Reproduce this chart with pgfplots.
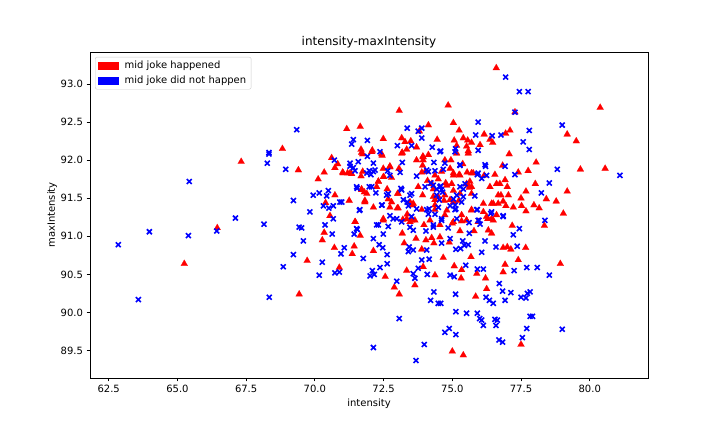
\documentclass[border=0pt]{standalone}
\usepackage{pgfplots}
\pgfplotsset{compat=1.18}
\usepackage{fontspec}
\setmainfont{DejaVu Sans}
\definecolor{legframe}{rgb}{0.8,0.8,0.8}
\begin{document}
\fontsize{10bp}{12bp}\selectfont
\begin{tikzpicture}
\useasboundingbox (0,0) rectangle (720bp,432bp);
\begin{axis}[
  at={(90bp,54bp)}, anchor=south west, scale only axis,
  width=558bp, height=326bp,
  xmin=61.82, xmax=82.12, ymin=89.14, ymax=93.42,
  xtick={62.5,65,67.5,70,72.5,75,77.5,80},
  ytick={89.5,90,90.5,91,91.5,92,92.5,93},
  xticklabel style={/pgf/number format/.cd,fixed,fixed zerofill,precision=1},
  yticklabel style={/pgf/number format/.cd,fixed,fixed zerofill,precision=1},
  /pgf/number format/assume math mode=true,
  tick label style={font=\fontsize{10bp}{12bp}\selectfont},
  tick pos=left, tick align=outside,
  major tick length=3.5bp,
  every tick/.style={black, line width=0.8bp},
  axis line style={line width=0.8bp},
  title={intensity-maxIntensity},
  title style={font=\fontsize{12bp}{14bp}\selectfont, yshift=-6bp},
  xlabel={intensity}, ylabel={maxIntensity},
  label style={font=\fontsize{10bp}{12bp}\selectfont},
  xlabel style={yshift=1bp},
  ylabel style={yshift=-3bp},
  legend style={at={(0.009,0.985)}, anchor=north west, draw=legframe,
    rounded corners=2bp, font=\fontsize{10bp}{12bp}\selectfont,
    inner xsep=3bp, inner ysep=2bp, row sep=2bp},
  legend cell align=left,
  clip=true,
]
\addlegendimage{legend image code/.code={\fill[red, sharp corners] (0bp,-3.5bp) rectangle (20bp,3.5bp); \path (24bp,0bp);}}
\addlegendentry{mid joke happened}
\addlegendimage{legend image code/.code={\fill[blue, sharp corners] (0bp,-3.5bp) rectangle (20bp,3.5bp); \path (24bp,0bp);}}
\addlegendentry{mid joke did not happen}

\addplot[red, only marks, mark=triangle*, mark size=4bp, mark options={solid, fill=red, draw=red, line width=0.1bp}, forget plot] table {
x y
68.82 92.15
67.32 91.98
69.40 91.87
66.45 91.11
65.25 90.64
69.43 90.24
80.38 92.69
79.18 92.34
79.51 92.25
78.05 91.97
79.66 91.88
80.56 91.89
78.02 91.69
79.18 91.59
78.42 91.49
78.78 91.46
77.97 91.41
78.16 91.37
79.04 91.30
78.35 91.14
78.93 90.64
73.07 92.65
71.16 92.41
71.65 92.44
73.80 92.38
72.49 92.28
73.16 92.29
73.28 92.24
73.49 92.25
73.34 92.14
73.70 92.17
71.68 92.14
71.74 92.08
72.09 92.13
72.45 92.06
73.18 92.10
70.61 92.03
70.83 91.95
70.73 91.90
73.70 92.00
70.34 91.84
71.01 91.84
71.19 91.83
71.34 91.82
71.74 91.85
71.68 91.79
72.49 91.89
72.73 91.92
73.06 91.89
72.31 91.72
72.51 91.78
72.79 91.77
70.12 91.75
70.73 91.54
71.25 91.47
70.39 91.44
70.55 91.27
71.70 91.62
71.80 91.58
72.25 91.65
72.63 91.62
72.67 91.49
73.01 91.56
73.76 91.65
71.82 91.47
72.13 91.38
72.73 91.38
73.00 91.37
73.56 91.41
73.36 91.29
71.47 91.19
70.34 91.05
71.65 91.01
70.27 90.95
72.49 91.21
71.43 90.87
70.71 90.85
71.36 90.77
72.13 90.81
69.72 90.68
70.89 90.59
72.56 90.47
72.89 90.33
73.07 90.24
73.18 91.04
73.25 90.91
73.68 90.97
73.34 90.55
73.64 90.36
73.20 91.22
73.52 91.21
76.60 93.21
74.85 92.72
77.28 92.63
75.04 92.49
74.13 92.46
75.25 92.39
76.16 92.34
76.94 92.35
77.10 92.39
74.45 92.27
75.07 92.26
75.40 92.29
75.56 92.26
75.70 92.23
76.37 92.27
76.47 92.23
76.01 92.20
75.16 92.19
75.52 92.18
75.58 92.12
77.07 92.08
73.93 92.05
73.94 92.00
74.73 92.00
74.95 92.00
75.38 91.95
76.83 91.93
77.76 91.86
77.40 91.84
74.92 91.89
74.49 91.75
75.04 91.80
75.25 91.81
75.54 91.84
75.76 91.83
76.16 91.80
76.55 91.81
73.89 91.84
74.10 91.73
74.76 91.70
75.52 91.69
75.62 91.64
76.73 91.69
76.92 91.74
77.00 91.65
74.31 91.62
75.04 91.60
75.28 91.56
75.70 91.56
76.77 91.54
77.04 91.54
77.68 91.59
74.70 91.47
75.24 91.47
73.92 91.54
74.31 91.52
74.37 91.41
74.80 91.34
76.13 91.43
76.49 91.43
76.67 91.43
76.85 91.46
76.95 91.40
77.22 91.38
77.50 91.50
77.52 91.40
75.70 91.34
76.13 91.32
77.68 91.33
74.19 91.21
73.97 91.15
74.55 91.15
75.00 91.17
75.34 91.20
75.52 91.21
76.29 91.23
76.49 91.21
77.18 91.14
75.79 91.07
76.31 91.08
76.43 91.04
75.28 91.07
74.55 90.99
74.04 90.95
74.25 90.98
74.33 90.91
74.89 90.92
76.85 90.85
77.00 90.86
77.13 90.83
77.67 90.85
77.40 90.69
73.89 90.83
74.67 90.72
75.68 90.73
73.94 90.60
75.07 90.61
75.34 90.56
76.85 90.53
76.92 90.63
74.37 90.49
75.32 90.45
75.89 90.51
76.21 90.45
76.25 90.31
75.85 90.21
77.50 89.58
75.00 89.49
75.40 89.44
73.94 92.04
74.13 92.07
73.92 91.93
74.01 91.85
74.25 91.69
74.37 91.80
74.61 91.85
75.04 91.83
74.80 91.67
74.98 91.69
75.28 91.80
75.70 91.83
75.64 91.72
75.58 91.67
75.70 91.65
75.58 92.09
75.16 92.09
76.37 91.65
76.61 91.69
76.67 91.54
76.43 91.43
75.70 91.35
75.34 91.28
75.52 91.21
75.04 91.19
74.73 91.28
74.37 91.35
73.89 91.35
74.49 91.52
74.73 91.54
74.37 91.48
74.92 91.48
75.04 91.45
76.25 91.26
76.43 91.23
76.61 91.28
75.94 91.19
71.70 92.10
72.07 92.11
72.43 92.08
73.16 92.09
71.03 91.83
71.28 91.83
72.49 91.78
72.73 91.91
72.31 91.72
71.70 91.61
71.89 91.56
73.03 91.56
71.82 91.45
72.79 91.45
73.46 91.45
73.58 91.43
73.03 91.37
71.46 91.19
72.49 91.23
73.34 91.23
73.46 91.19
73.64 91.21
};

\addplot[blue, only marks, mark=x, mark size=3.5bp, mark options={solid, draw=blue, line width=1.6bp}, forget plot] table {
x y
69.34 92.40
68.33 92.10
68.33 92.08
68.27 91.96
68.94 91.88
65.43 91.72
69.22 91.47
67.11 91.24
68.15 91.16
66.43 91.07
63.98 91.06
65.40 91.01
62.85 90.89
69.22 90.76
68.85 90.60
63.58 90.17
68.34 90.20
69.43 91.12
79.00 92.46
78.82 91.88
81.10 91.80
78.53 91.70
78.24 91.57
78.37 91.21
78.09 90.59
78.53 90.49
77.83 90.27
77.92 89.95
79.00 89.78
73.36 92.42
73.76 92.38
71.40 92.27
71.34 92.21
71.91 92.26
73.00 92.19
73.52 92.19
72.37 92.11
71.91 92.05
70.71 92.00
71.58 91.98
72.13 91.96
73.18 91.97
71.28 91.92
71.40 91.90
71.46 91.86
71.98 91.86
72.04 91.81
72.19 91.87
72.65 91.86
73.10 91.84
73.70 91.79
69.94 91.54
70.16 91.57
70.49 91.60
70.43 91.53
70.91 91.45
70.31 91.40
70.51 91.37
70.67 91.40
69.82 91.32
71.54 91.63
71.98 91.65
72.22 91.57
72.67 91.56
73.13 91.63
73.46 91.54
71.62 91.34
72.45 91.41
73.36 91.45
73.40 91.40
73.70 91.36
72.73 91.27
70.67 91.23
69.52 91.11
70.37 91.15
70.63 91.03
71.54 91.09
71.43 91.03
69.58 90.94
72.13 90.97
72.25 91.15
72.67 91.13
72.49 91.03
72.34 90.89
72.47 90.85
71.07 90.85
70.95 90.77
71.76 90.71
72.63 90.76
70.27 90.66
72.63 90.64
72.37 90.59
70.73 90.52
70.89 90.53
70.16 90.49
72.09 90.55
72.01 90.48
72.16 90.50
72.98 90.41
73.07 89.92
72.13 89.54
73.68 89.37
73.43 90.86
73.58 90.82
73.40 90.80
73.58 91.08
73.46 91.12
73.58 90.51
73.64 90.45
73.76 90.58
72.98 91.23
76.94 93.09
77.44 92.90
77.76 92.90
77.28 92.63
75.94 92.50
73.89 92.42
77.80 92.39
75.85 92.33
76.45 92.32
76.77 92.33
73.89 92.29
77.58 92.24
74.27 92.17
74.58 92.12
75.12 92.15
75.94 92.13
77.80 92.14
74.33 91.97
75.28 91.93
76.92 91.92
76.21 91.92
77.28 91.81
74.07 91.87
74.37 91.86
74.67 91.88
75.91 91.81
76.07 91.76
74.22 91.70
74.01 91.65
75.28 91.65
74.43 91.62
74.58 91.66
74.65 91.58
75.40 91.62
75.82 91.53
74.43 91.54
74.53 91.48
75.04 91.49
75.10 91.41
74.16 91.36
74.49 91.38
74.92 91.40
75.13 91.36
75.91 91.35
76.40 91.30
76.85 91.27
74.13 91.29
74.37 91.29
74.61 91.21
74.04 91.07
74.31 91.12
74.85 91.11
75.16 91.23
75.61 91.18
75.97 91.21
76.01 91.16
76.85 91.26
77.44 91.10
77.22 91.02
75.62 91.04
74.92 90.97
74.61 90.91
75.38 90.94
75.44 90.88
75.58 90.89
75.30 90.84
75.13 90.83
76.19 90.94
76.07 90.79
76.59 90.86
77.36 90.87
77.71 90.59
74.07 90.82
73.89 90.69
74.16 90.70
75.49 90.62
75.91 90.57
76.13 90.57
77.25 90.55
74.09 90.50
74.92 90.49
75.07 90.47
76.71 90.38
74.33 90.27
75.12 90.24
76.23 90.20
76.35 90.16
76.49 90.12
76.83 90.28
76.92 90.16
77.13 90.26
77.50 90.20
77.68 90.19
77.73 90.25
74.21 90.16
74.49 90.12
74.58 90.12
75.13 90.01
75.52 89.99
75.91 89.99
76.00 89.92
76.07 89.90
76.13 89.83
76.55 89.91
76.64 89.90
76.59 89.83
77.83 89.95
77.71 89.79
74.73 89.74
74.89 89.79
75.13 89.71
76.70 89.64
76.83 89.61
77.55 89.67
73.98 89.58
74.55 92.11
75.10 92.11
74.73 91.96
75.28 91.94
76.19 91.94
74.13 91.85
75.94 91.83
76.25 91.80
74.31 91.67
74.55 91.65
74.61 91.61
75.46 91.69
75.16 91.54
75.40 91.52
75.34 91.45
74.07 91.35
74.61 91.23
75.10 91.35
75.89 91.35
76.43 91.32
75.94 91.21
74.31 91.15
71.28 91.96
71.89 91.83
72.13 91.85
72.73 91.80
71.52 91.65
72.07 91.65
72.61 91.54
72.43 91.41
73.16 91.61
73.52 91.56
73.22 91.48
70.98 91.45
71.64 91.35
72.85 91.23
73.16 91.19
73.52 91.26
72.31 91.15
71.52 91.10
};
\end{axis}
\end{tikzpicture}
\end{document}
